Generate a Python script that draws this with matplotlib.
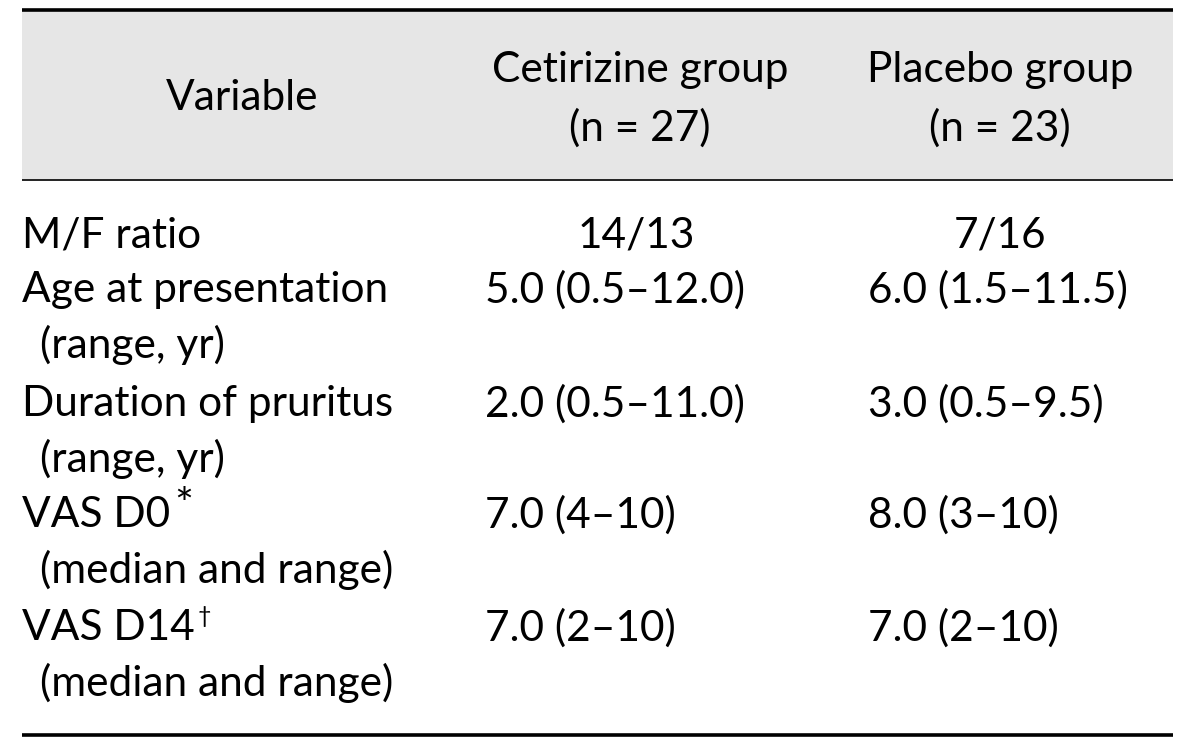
import matplotlib
matplotlib.use("Agg")
import matplotlib.pyplot as plt

# ---- data ----
col_headers = ["Variable", "Cetirizine group\n(n = 27)", "Placebo group\n(n = 23)"]
variables = ["M/F ratio", "Age at presentation", "Duration of pruritus", "VAS D0", "VAS D14"]
sub_labels = ["", "(range, yr)", "(range, yr)", "(median and range)", "(median and range)"]
superscripts = ["", "", "", "*", "\u2020"]
cetirizine = ["14/13", "5.0 (0.5\u201312.0)", "2.0 (0.5\u201311.0)", "7.0 (4\u201310)", "7.0 (2\u201310)"]
placebo = ["7/16", "6.0 (1.5\u201311.5)", "3.0 (0.5\u20139.5)", "8.0 (3\u201310)", "7.0 (2\u201310)"]

plt.rcParams['font.family'] = ['Lato', 'DejaVu Sans']
FS = 30.5

fig = plt.figure(figsize=(12, 7.44), dpi=100)
ax = fig.add_axes([0, 0, 1, 1])
ax.set_xlim(0, 1200)
ax.set_ylim(744, 0)
ax.axis('off')

L, R = 22, 1173
# header shading and rules
ax.fill_between([L, R], 10, 180, color='#e6e6e6', lw=0, zorder=0)
ax.plot([L, R], [9.5, 9.5], color='black', lw=2.6, solid_capstyle='butt')
ax.plot([L, R], [180, 180], color='#222222', lw=1.4, solid_capstyle='butt')
ax.plot([L, R], [735, 735], color='black', lw=2.6, solid_capstyle='butt')

# header text
ax.text(242, 98, col_headers[0], ha='center', va='center', fontsize=FS)
for hx, h in zip([640, 1000], col_headers[1:]):
    top, bot = h.split("\n")
    ax.text(hx, 70, top, ha='center', va='center', fontsize=FS)
    ax.text(hx, 128, bot, ha='center', va='center', fontsize=FS)

row_y = [235, 290, 404, 515, 628]
for i, (v, s, sup, c, p) in enumerate(zip(variables, sub_labels, superscripts, cetirizine, placebo)):
    y = row_y[i]
    t = ax.text(L, y, v, ha='left', va='center', fontsize=FS)
    if sup == "*":
        ax.annotate(sup, xy=(1.0, 0.72), xycoords=t, xytext=(3, 0), textcoords='offset points',
                    ha='left', va='center', fontsize=FS * 1.05)
    elif sup:
        ax.annotate(sup, xy=(1.0, 0.8), xycoords=t, xytext=(2, 0), textcoords='offset points',
                    ha='left', va='center', fontsize=FS * 0.55)
    if s:
        ax.text(40, y + 55, s, ha='left', va='center', fontsize=FS)
    if i == 0:
        ax.text(636, y, c, ha='center', va='center', fontsize=FS)
        ax.text(1000, y, p, ha='center', va='center', fontsize=FS)
    else:
        ax.text(485, y, c, ha='left', va='center', fontsize=FS)
        ax.text(868, y, p, ha='left', va='center', fontsize=FS)

fig.savefig('out.png', dpi=100)
